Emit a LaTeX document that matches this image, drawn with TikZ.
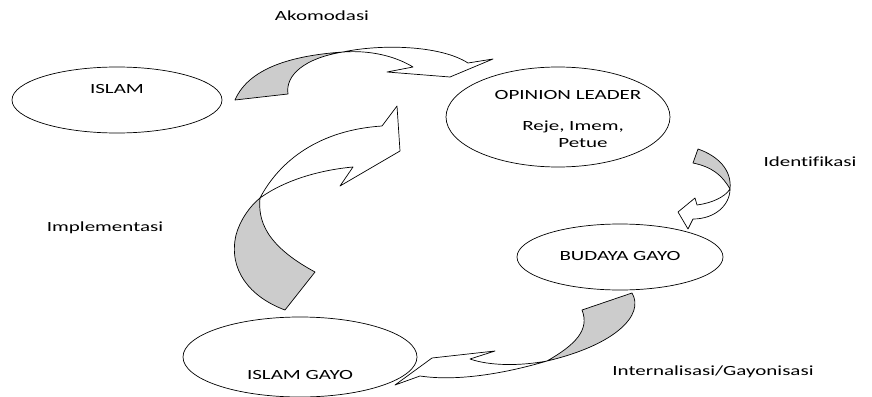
\documentclass[tikz,border=0pt]{standalone}
\usepackage{fontspec}
\setmainfont[FakeStretch=1.5,Ligatures=NoCommon]{Carlito}
\begin{document}
\begin{tikzpicture}[x=1pt,y=-1pt,
  ell/.style={draw=black, line width=0.7pt, fill=white},
  lbl/.style={font=\fontsize{14}{16}\selectfont, inner sep=0pt},
  ribbon/.style={draw=black, line width=0.7pt, line join=round, fill=white},
  under/.style={draw=black, line width=0.7pt, line join=round, fill=black!20}]
\useasboundingbox (0,0) rectangle (872,396);

% ellipses
\draw[ell] (117,100) ellipse [x radius=105, y radius=33];
\node[lbl] (islam) at (117,89) {ISLAM};
\draw[ell] (558,117) ellipse [x radius=112, y radius=50];
\node[lbl] (ol) at (568,95) {OPINION LEADER};
\node[lbl] (reje) at (573,127) {Reje, Imem,};
\node[lbl] (petue) at (583,143) {Petue};
\draw[ell] (620,257) ellipse [x radius=103, y radius=33];
\node[lbl] (budaya) at (620,256) {BUDAYA GAYO};
\draw[ell] (300,357) ellipse [x radius=117, y radius=40];
\node[lbl] (ig) at (300,375) {ISLAM GAYO};

% labels
\node[lbl] (ako) at (322,16) {Akomodasi};
\node[lbl] (iden) at (810,162) {Identifikasi};
\node[lbl] (impl) at (105,228) {Implementasi};
\node[lbl] (intern) at (713,372) {Internalisasi/Gayonisasi};

% arrow 1: Akomodasi
\draw[under] (235,100) .. controls (250,65) and (300,55) .. (343,52)
  .. controls (305,58) and (285,75) .. (288,94) -- cycle;
\draw[ribbon] (343,52) .. controls (380,44) and (440,45) .. (468,63)
  -- (493,59) -- (450,77) -- (387,72) -- (413,67)
  .. controls (395,56) and (370,50) .. (343,52);

% arrow 2: Implementasi
\draw[under] (285,310) .. controls (250,297) and (228,270) .. (236,235)
  .. controls (240,220) and (250,206) .. (260,198)
  .. controls (258,220) and (265,245) .. (315,272) -- cycle;
\draw[ribbon] (260,198) .. controls (280,160) and (320,130) .. (382,126)
  -- (397,106) -- (400,151) -- (340,186) -- (353,167)
  .. controls (320,170) and (285,180) .. (260,198);

% arrow 3: Identifikasi
\draw[under] (698,149) .. controls (718,156) and (732,170) .. (730,189)
  .. controls (722,175) and (712,167) .. (693,163) -- cycle;
\draw[ribbon] (730,189) .. controls (730,205) and (715,219) .. (693,219)
  -- (688,229) -- (678,212) -- (695,198) -- (697,205)
  .. controls (712,203) and (725,197) .. (730,189);

% arrow 4: Internalisasi/Gayonisasi
\draw[under] (632,293) .. controls (645,315) and (615,345) .. (547,361)
  .. controls (575,345) and (590,330) .. (582,310) -- cycle;
\draw[ribbon] (547,361) .. controls (510,372) and (460,382) .. (420,376)
  -- (395,385) -- (432,358) -- (495,351) -- (470,359)
  .. controls (490,366) and (520,366) .. (547,361);
\end{tikzpicture}
\end{document}
